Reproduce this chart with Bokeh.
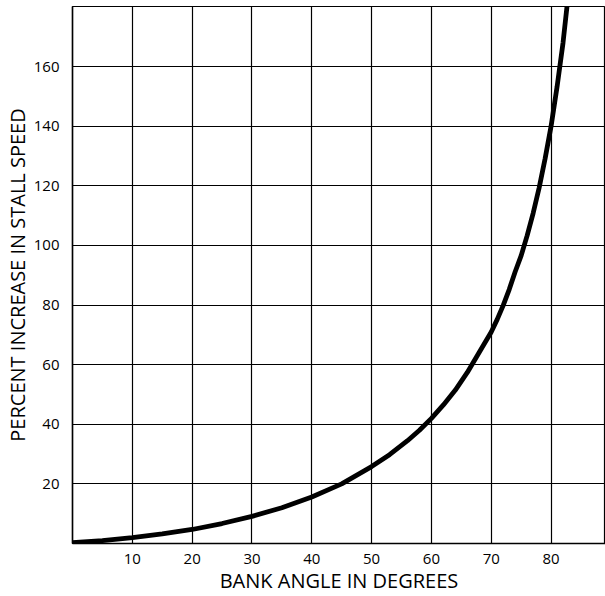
from bokeh.plotting import figure
from bokeh.embed import file_html
from bokeh.resources import INLINE
from bokeh.models import FixedTicker, Range1d

bank_angle = [0, 5, 10, 15, 20, 25, 30, 35, 40, 45, 50, 53, 56, 58, 60, 62, 64, 66, 68, 70,
              71, 72, 73, 74, 75, 76, 77, 78, 79, 80, 81, 82, 83]
percent_increase = [0.3, 1.0, 2.0, 3.2, 4.7, 6.7, 9.1, 12.0, 15.6, 20.0, 25.8, 29.8, 34.5, 38.0,
                    42.0, 46.5, 51.5, 57.4, 64.2, 71.0, 75.2, 79.9, 85.2, 91.2, 96.6, 103.3,
                    110.8, 119.3, 129.1, 140.0, 153.2, 168.0, 186.4]

x_ticks = [10, 20, 30, 40, 50, 60, 70, 80]
y_ticks = [20, 40, 60, 80, 100, 120, 140, 160]

p = figure(width=605, height=596, output_backend="svg", toolbar_location=None,
           x_range=Range1d(0, 89.1), y_range=Range1d(0, 180.2),
           min_border_left=71, min_border_right=0, min_border_top=6, min_border_bottom=53)

p.line(bank_angle, percent_increase, line_width=4.8, line_color="black")

p.xaxis.ticker = FixedTicker(ticks=x_ticks)
p.yaxis.ticker = FixedTicker(ticks=y_ticks)
for ax in (p.xaxis[0], p.yaxis[0]):
    ax.major_tick_line_color = None
    ax.minor_tick_line_color = None
    ax.axis_line_color = "black"
    ax.axis_line_width = 1.5
    ax.major_label_text_font = "Open Sans"
    ax.major_label_text_font_size = "15px"
    ax.major_label_text_color = "black"
    ax.axis_label_text_font = "Open Sans"
    ax.axis_label_text_font_size = "20px"
    ax.axis_label_text_font_style = "normal"
    ax.axis_label_text_color = "black"
    ax.axis_label_standoff = 0

p.xaxis.axis_label = "BANK ANGLE IN DEGREES"
p.yaxis.axis_label = "PERCENT INCREASE IN STALL SPEED"
p.xaxis.major_label_standoff = 4
p.yaxis.major_label_standoff = 7
p.yaxis.major_label_orientation = "horizontal"

p.xgrid.ticker = FixedTicker(ticks=x_ticks)
p.ygrid.ticker = FixedTicker(ticks=y_ticks)
p.grid.grid_line_color = "black"
p.grid.grid_line_alpha = 1.0
p.grid.grid_line_width = 1.2
p.outline_line_color = "black"
p.outline_line_width = 1.2
p.background_fill_color = "white"
p.border_fill_color = "white"

open("out.html", "w").write(file_html(p, INLINE))
